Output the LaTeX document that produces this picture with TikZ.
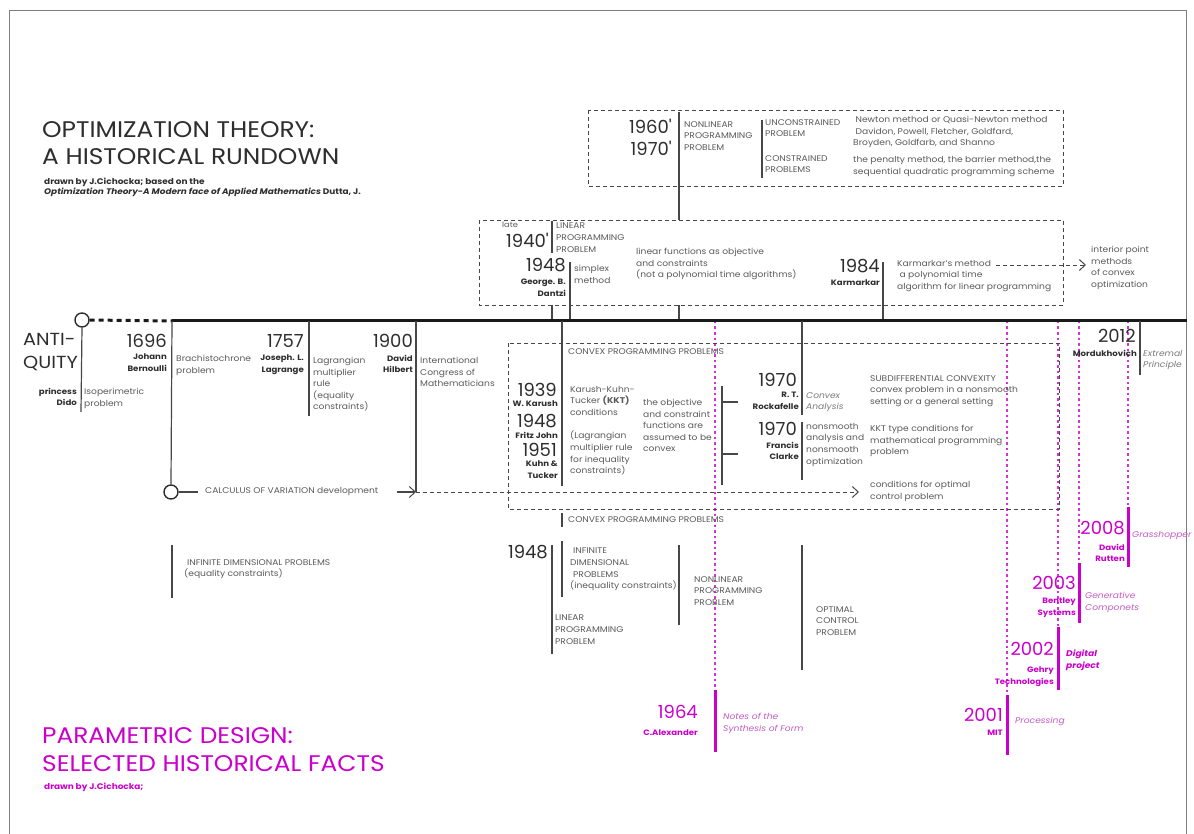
\documentclass[tikz,border=0pt]{standalone}
\usepackage{fontspec}
\setmainfont{Poppins}[FakeStretch=1.1]
\newfontfamily\yrfont{Poppins}
\usetikzlibrary{arrows.meta}
\definecolor{lg}{HTML}{474747}
\definecolor{tg}{HTML}{5A5A5A}
\definecolor{dk}{HTML}{2E2E2E}
\definecolor{mg}{HTML}{CC00CC}
\definecolor{mgl}{HTML}{C45CC4}
\newcommand{\sq}{\char"0027\relax}
\tikzset{
  txt/.style={anchor=north west,inner sep=0pt,align=left,text=tg,font=\fontsize{8.3}{11.6}\selectfont},
  itx/.style={txt,font=\fontsize{8.3}{11.6}\selectfont\itshape},
  yr/.style={anchor=north east,inner sep=0pt,text=dk,font=\yrfont\fontsize{18}{22}\selectfont},
  nm/.style={anchor=north east,inner sep=0pt,align=right,text=dk,font=\fontsize{7.8}{11.5}\selectfont\bfseries},
  ttl/.style={anchor=north west,inner sep=0pt,align=left,text=dk,font=\fontsize{22.6}{27}\selectfont},
  sub/.style={anchor=north west,inner sep=0pt,align=left,text=dk,font=\fontsize{8.1}{10}\selectfont\bfseries},
  tick/.style={draw=lg,line width=1.2pt},
  dbox/.style={draw=lg,line width=0.9pt,dash pattern=on 4pt off 3pt},
  tl/.style={draw=black!90,line width=3pt},
  pdash/.style={draw=mg!80,line width=1.5pt,dash pattern=on 2.5pt off 3pt},
  pbar/.style={draw=mg,line width=3pt},
  circ/.style={circle,draw=dk,line width=1.4pt,minimum size=14pt,inner sep=0pt},
  myarrow/.style={-{Straight Barb[length=6pt,width=11pt,line width=1pt]}},
}
\begin{document}
\begin{tikzpicture}[x=1pt,y=-1pt]
\useasboundingbox (0,0) rectangle (1194,834);
\fill[white] (0,0) rectangle (1194,834);
\draw[lg!70,line width=0.8pt] (9,834) -- (9,10) -- (1186,10) -- (1186,834);

% ---- titles
\node[ttl] (t1) at (42,121) {OPTIMIZATION THEORY:};
\node[ttl] (t2) at (42,148) {A HISTORICAL RUNDOWN};
\node[sub] (t3) at (44,178)
 {drawn by J.Cichocka; based on the\\\textit{Optimization Theory-A Modern face of Applied Mathematics} Dutta, J.};

% ---- top box
\draw[dbox] (588,110) rectangle (1063,186);
\node[yr] (y1960) at (672,119) {1960\sq};
\node[yr] (y1970) at (672,141) {1970\sq};
\node[txt] (nlp) at (684,121) {NONLINEAR\\PROGRAMMING\\PROBLEM};
\node[txt] (unc) at (765,119) {UNCONSTRAINED\\PROBLEM};
\node[txt] (con) at (765,155) {CONSTRAINED\\PROBLEMS};
\node[txt] (newt) at (853,116) {\ Newton method or Quasi-Newton method\\\ Davidon, Powell, Fletcher, Goldfard,\\Broyden, Goldfarb, and Shanno};
\node[txt] (pen) at (853,156) {the penalty method, the barrier method,the\\sequential quadratic programming scheme};
\coordinate (a1) at (679,112); \coordinate (a2) at (679,220);
\draw[tick] (a1) -- (a2);
\draw[tick] (762,120) -- (762,178);

% ---- second box
\draw[dbox] (479,220) rectangle (1063,305);
\node[anchor=north west,inner sep=0pt,text=tg,font=\fontsize{7.5}{9}\selectfont] (late) at (502,222) {late};
\node[yr] (y1940) at (549,233) {1940\sq};
\node[txt] (lpp) at (556,223) {LINEAR\\PROGRAMMING\\PROBLEM};
\node[yr] (y1948a) at (566,258) {1948};
\node[nm] (dantz) at (566,279) {George. B.\\Dantzi};
\node[txt] (simp) at (574,265) {simplex\\method};
\node[txt] (linf) at (636,248) {linear functions as objective\\and constraints\\(not a polynomial time algorithms)};
\node[yr] (y1984) at (880,259) {1984};
\node[nm] (karm) at (880,280) {Karmarkar};
\node[txt] (karmm) at (897,260) {Karmarkar's method\\\ a polynomial time\\algorithm for linear programming};
\node[txt] (ipm) at (1091,246) {interior point\\methods\\of convex\\optimization};
\draw[tick] (552,221) -- (552,253);
\draw[tick] (552,305) -- (552,321);
\draw[tick] (570,262) -- (570,321);
\draw[tick] (679,305) -- (679,321);
\draw[tick] (883,262) -- (883,321);
\coordinate (ka) at (996,265); \coordinate (kb) at (1086,265);
\draw[lg,line width=0.9pt,dash pattern=on 4pt off 3pt,myarrow] (ka) -- (kb);

% ---- magenta dashed drop lines (under timeline)
\draw[pdash] (715,321) -- (715,690);
\draw[pdash] (1007,321) -- (1007,695);
\draw[pdash] (1058,321) -- (1058,627);
\draw[pdash] (1079,321) -- (1079,563);
\draw[pdash] (1128,321) -- (1128,507);

% ---- timeline
\node[circ] (c0) at (82,320) {};
\draw[black!90,line width=3pt,dash pattern=on 5pt off 4pt] (c0.east) -- (172,321);
\draw[tl] (172,321) -- (1187,321);
\draw[tick] (c0.south) -- (81,412);
\node[anchor=north west,inner sep=0pt,align=left,text=dk,font=\fontsize{17.5}{23}\selectfont] (anti) at (23,333) {ANTI-\\QUITY};
\node[nm] (dido) at (77,388) {princess\\Dido};
\node[txt] (iso) at (84,388) {Isoperimetric\\problem};
\node[yr] (y1696) at (167,334) {1696};
\node[nm] (bern) at (167,354) {Johann\\Bernoulli};
\node[txt] (brach) at (176,355) {Brachistochrone\\problem};
\node[yr] (y1757) at (304,334) {1757};
\node[nm] (lagr) at (304,355) {Joseph. L.\\Lagrange};
\node[txt] (lagm) at (313,357) {Lagrangian\\multiplier\\rule\\(equality\\constraints)};
\node[yr] (y1900) at (413,334) {1900};
\node[nm] (hilb) at (413,355) {David\\Hilbert};
\node[txt] (icm) at (420,357) {International\\Congress of\\Mathematicians};
\node[circ] (c1) at (171,492) {};
\draw[tick] (172,321) -- (c1.north);
\draw[tick] (309,321) -- (309,416);
\draw[tick] (416,321) -- (416,492);

% ---- calculus of variation
\node[anchor=west,inner sep=0pt,text=tg,font=\fontsize{8.3}{10}\selectfont] (calc) at (205,492) {CALCULUS OF VARIATION development};
\draw[tick] (c1.east) -- (198,492);
\coordinate (ca) at (397,492); \coordinate (cb) at (416,492); \coordinate (cc) at (859,492);
\draw[lg,line width=1.2pt,myarrow] (ca) -- (cb);
\draw[lg,line width=0.9pt,dash pattern=on 4pt off 3pt,myarrow] (cb) -- (cc);
\node[txt] (ocp) at (870,481) {conditions for optimal\\control problem};

% ---- convex box
\draw[dbox] (508,343) rectangle (1059,509);
\draw[tick] (562,321) -- (562,486);
\node[txt] (cpp1) at (568,348) {CONVEX PROGRAMMING PROBLEMS};
\node[yr] (y1939) at (557,383) {1939};
\node[nm] (kar) at (558,401) {W. Karush};
\node[yr] (y1948b) at (557,414) {1948};
\node[nm] (fj) at (558,432) {Fritz John};
\node[yr] (y1951) at (557,443) {1951};
\node[nm] (kt) at (558,461) {Kuhn \&\\Tucker};
\node[txt] (kkt) at (570,386) {Karush-Kuhn-\\Tucker \textbf{(KKT)}\\conditions};
\node[txt] (lmr) at (570,431) {(Lagrangian\\multiplier rule\\for inequality\\constraints)};
\node[txt] (obj) at (643,399) {the objective\\and constraint\\functions are\\assumed to be\\convex};
\draw[tick] (722,386) -- (722,485);
\draw[tick] (722,402) -- (738,402);
\draw[tick] (722,454) -- (738,454);
\node[yr] (y1970a) at (797,373) {1970};
\node[nm] (rock) at (799,392) {R. T.\\Rockafelle};
\node[itx,text=tg!80] (cva) at (806,392) {Convex\\Analysis};
\node[yr] (y1970b) at (797,422) {1970};
\node[nm] (clar) at (799,442) {Francis\\Clarke};
\node[txt] (nsa) at (806,423) {nonsmooth\\analysis and\\nonsmooth\\optimization};
\draw[tick] (802,321) -- (802,415);
\draw[tick] (802,422) -- (802,480);
\node[txt] (sub) at (870,375) {SUBDIFFERENTIAL CONVEXITY\\convex problem in a nonsmooth\\setting or a general setting};
\node[txt] (kktt) at (870,425) {KKT type conditions for\\mathematical programming\\problem};

% ---- below convex box
\draw[tick] (562,513) -- (562,527);
\node[txt] (cpp2) at (568,516) {CONVEX PROGRAMMING PROBLEMS};
\node[yr] (y1948c) at (548,545) {1948};
\draw[tick] (552,545) -- (552,654);
\draw[tick] (562,541) -- (562,597);
\node[txt] (idp) at (570,548) {\hspace{3pt}INFINITE\\DIMENSIONAL\\\hspace{3pt}PROBLEMS\\(inequality constraints)};
\draw[tick] (679,545) -- (679,625);
\node[txt] (nlp2) at (694,576) {NONLINEAR\\PROGRAMMING\\PROBLEM};
\node[txt] (lpp2) at (555,615) {LINEAR\\PROGRAMMING\\PROBLEM};
\draw[tick] (802,545) -- (802,670);
\node[txt] (ocp2) at (816,606) {OPTIMAL\\CONTROL\\PROBLEM};
\draw[tick] (172,545) -- (172,598);
\node[txt] (idp2) at (184,559) {\hspace{3pt}INFINITE DIMENSIONAL PROBLEMS\\(equality constraints)};

% ---- 2012
\draw[tick] (1140,321) -- (1140,375);
\node[yr] (y2012) at (1136,329) {2012};
\node[nm] (mord) at (1137,350) {Mordukhovich};
\node[itx,text=tg!80] (ext) at (1143,350) {Extremal\\Principle};

% ---- parametric design (magenta)
\draw[pbar] (715,690) -- (715,752);
\draw[pbar] (1007,695) -- (1007,755);
\draw[pbar] (1058,627) -- (1058,690);
\draw[pbar] (1079,563) -- (1079,623);
\draw[pbar] (1128,507) -- (1128,567);
\node[yr,text=mg] (y1964) at (698,705) {1964};
\node[nm,text=mg] (alex) at (698,730) {C.Alexander};
\node[itx,text=mgl] (notes) at (723,713) {Notes of the\\Synthesis of Form};
\node[yr,text=mg] (y2001) at (1003,708) {2001};
\node[nm,text=mg] (mit) at (1003,730) {MIT};
\node[itx,text=mgl] (proc) at (1015,717) {Processing};
\node[yr,text=mg] (y2002) at (1054,642) {2002};
\node[nm,text=mg] (gehry) at (1054,667) {Gehry\\Technologies};
\node[txt,text=mg,font=\fontsize{8.3}{11.6}\selectfont\bfseries\itshape] (dig) at (1066,650) {Digital\\project};
\node[yr,text=mg] (y2003) at (1076,576) {2003};
\node[nm,text=mg] (bent) at (1076,598) {Bentley\\Systems};
\node[itx,text=mgl] (gen) at (1085,592) {Generative\\Componets};
\node[yr,text=mg] (y2008) at (1125,521) {2008};
\node[nm,text=mg] (rutt) at (1125,544) {David\\Rutten};
\node[itx,text=mgl] (gh) at (1132,531) {Grasshopper};

\node[ttl,text=mg] (p1) at (42,727) {PARAMETRIC DESIGN:};
\node[ttl,text=mg] (p2) at (42,755) {SELECTED HISTORICAL FACTS};
\node[sub,text=mg] (p3) at (44,783) {drawn by J.Cichocka;};
\end{tikzpicture}
\end{document}
